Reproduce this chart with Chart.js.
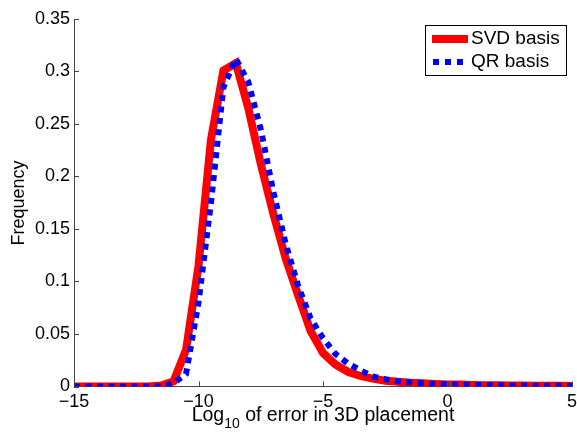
<!DOCTYPE html>
<html>
<head>
<meta charset="utf-8">
<script src="https://cdn.jsdelivr.net/npm/chart.js@4"></script>
<style>
  body { margin: 0; background: #fff; }
  #myChart { display: block; }
</style>
</head>
<body>
<canvas id="myChart" width="577" height="432"></canvas>
<script>
// log10 error bins
var logErr = [-15, -14.5, -14, -13.5, -13, -12.5, -12, -11.5, -11, -10.5,
              -10, -9.5, -9, -8.5, -8, -7.5, -7, -6.5, -6, -5.5,
              -5, -4.5, -4, -3.5, -3, -2.5, -2, -1.5, -1, -0.5,
              0, 0.5, 1, 1.5, 2, 2.5, 3, 3.5, 4, 4.5, 5];

var svdFreq = [0, 0, 0, 0, 0, 0, 0, 0.001, 0.005, 0.035,
               0.115, 0.235, 0.301, 0.308, 0.265, 0.212, 0.165, 0.122, 0.087, 0.053,
               0.032, 0.021, 0.014, 0.010, 0.0075, 0.0055, 0.0045, 0.0035, 0.003, 0.0025,
               0.002, 0.0018, 0.0015, 0.0013, 0.0012, 0.001, 0.001, 0.0008, 0.0007, 0.0006, 0.0005];

var qrFreq = [0, 0, 0, 0, 0, 0, 0, 0, 0.003, 0.012,
              0.08, 0.175, 0.285, 0.312, 0.29, 0.245, 0.186, 0.136, 0.096, 0.065,
              0.046, 0.031, 0.022, 0.0155, 0.0095, 0.007, 0.005, 0.004, 0.003, 0.0025,
              0.002, 0.0018, 0.0015, 0.0013, 0.0012, 0.001, 0.001, 0.0008, 0.0007, 0.0006, 0.0005];

var xTicks = [-15, -10, -5, 0, 5];
var yTicks = [0, 0.05, 0.1, 0.15, 0.2, 0.25, 0.3, 0.35];

var seriesNames = ['SVD basis', 'QR basis'];

var FONT = '"Liberation Sans", Arial, sans-serif';

function pts(ys) {
    var out = [];
    for (var i = 0; i < logErr.length; i++) out.push({x: logErr[i], y: ys[i]});
    return out;
}

function minusFmt(v) {
    return v < 0 ? '\u2212' + Math.abs(v) : String(v);
}

// inward ticks, axis titles and the boxed legend, MATLAB style
var decorations = {
    id: 'decorations',
    afterDraw: function(chart) {
        var ctx = chart.ctx;
        var area = chart.chartArea;
        var xs = chart.scales.x, ys = chart.scales.y;

        ctx.save();
        ctx.strokeStyle = '#444';
        ctx.lineWidth = 1;
        ctx.beginPath();
        xTicks.forEach(function(t){
            var px = Math.round(xs.getPixelForValue(t)) + 0.5;
            ctx.moveTo(px, area.bottom);
            ctx.lineTo(px, area.bottom - 5);
        });
        yTicks.forEach(function(t){
            var py = Math.round(ys.getPixelForValue(t)) + 0.5;
            ctx.moveTo(area.left, py);
            ctx.lineTo(area.left + 5, py);
        });
        ctx.stroke();

        // x title with subscript
        ctx.fillStyle = '#000';
        ctx.textBaseline = 'alphabetic';
        ctx.textAlign = 'left';
        var big = '19.5px ' + FONT, small = '14px ' + FONT;
        var a = 'Log', sub = '10', b = ' of error in 3D placement';
        ctx.font = big;
        var wa = ctx.measureText(a).width, wb = ctx.measureText(b).width;
        ctx.font = small;
        var ws = ctx.measureText(sub).width;
        var total = wa + ws + wb;
        var cx = (area.left + area.right) / 2;
        var x0 = cx - total / 2, base = 421;
        ctx.font = big;
        ctx.fillText(a, x0, base);
        ctx.font = small;
        ctx.fillText(sub, x0 + wa, base + 7);
        ctx.font = big;
        ctx.fillText(b, x0 + wa + ws, base);

        // y title
        ctx.save();
        ctx.font = '18px ' + FONT;
        ctx.translate(24, 203);
        ctx.rotate(-Math.PI / 2);
        ctx.textAlign = 'center';
        ctx.fillText('Frequency', 0, 0);
        ctx.restore();

        // legend
        ctx.fillStyle = '#fff';
        ctx.fillRect(425.5, 25.5, 141, 50);
        ctx.strokeStyle = '#000';
        ctx.strokeRect(425.5, 25.5, 141, 50);

        ctx.lineCap = 'butt';
        ctx.strokeStyle = '#ff0000';
        ctx.lineWidth = 8;
        ctx.beginPath();
        ctx.moveTo(432, 39);
        ctx.lineTo(468, 39);
        ctx.stroke();

        ctx.strokeStyle = '#0000ff';
        ctx.lineWidth = 6;
        ctx.setLineDash([6, 6]);
        ctx.beginPath();
        ctx.moveTo(433, 62);
        ctx.lineTo(469, 62);
        ctx.stroke();
        ctx.setLineDash([]);

        ctx.fillStyle = '#000';
        ctx.font = '19px ' + FONT;
        ctx.textAlign = 'left';
        ctx.textBaseline = 'middle';
        ctx.fillText(seriesNames[0], 471, 39);
        ctx.fillText(seriesNames[1], 471, 62);
        ctx.restore();
    }
};

var ctx = document.getElementById('myChart').getContext('2d');

var errChart = new Chart(ctx, {
    type: 'line',
    data: {
        datasets: [{
            label: seriesNames[0],
            data: pts(svdFreq),
            borderColor: '#ff0000',
            borderWidth: 8,
            pointRadius: 0,
            tension: 0,
            order: 2
        }, {
            label: seriesNames[1],
            data: pts(qrFreq),
            borderColor: '#0000ff',
            borderWidth: 6,
            borderDash: [6, 5.5],
            borderCapStyle: 'butt',
            pointRadius: 0,
            tension: 0,
            order: 1
        }]
    },
    options: {
        responsive: false,
        animation: false,
        devicePixelRatio: 1,
        layout: { padding: { top: 19, right: 5, left: 0, bottom: 0 } },
        plugins: {
            legend: { display: false },
            tooltip: { enabled: false }
        },
        scales: {
            x: {
                type: 'linear',
                min: -15,
                max: 5,
                afterFit: function(s){
                    s.height = 45.5;
                    s.paddingLeft = 0;
                    s.paddingRight = 0;
                },
                afterBuildTicks: function(s){
                    s.ticks = xTicks.map(function(v){ return {value: v}; });
                },
                grid: { drawOnChartArea: false, drawTicks: false },
                border: { color: '#444', width: 1 },
                ticks: {
                    padding: 5,
                    color: '#000',
                    font: { family: FONT, size: 18 },
                    maxRotation: 0,
                    callback: function(v){ return minusFmt(v); }
                }
            },
            y: {
                min: 0,
                max: 0.35,
                afterFit: function(s){ s.width = 74; },
                afterBuildTicks: function(s){
                    s.ticks = yTicks.map(function(v){ return {value: v}; });
                },
                grid: { drawOnChartArea: false, drawTicks: false },
                border: { color: '#444', width: 1 },
                ticks: {
                    padding: 4,
                    color: '#000',
                    font: { family: FONT, size: 18 },
                    callback: function(v){ return String(+v.toFixed(2)); }
                }
            }
        }
    },
    plugins: [decorations]
});
</script>
</body>
</html>
